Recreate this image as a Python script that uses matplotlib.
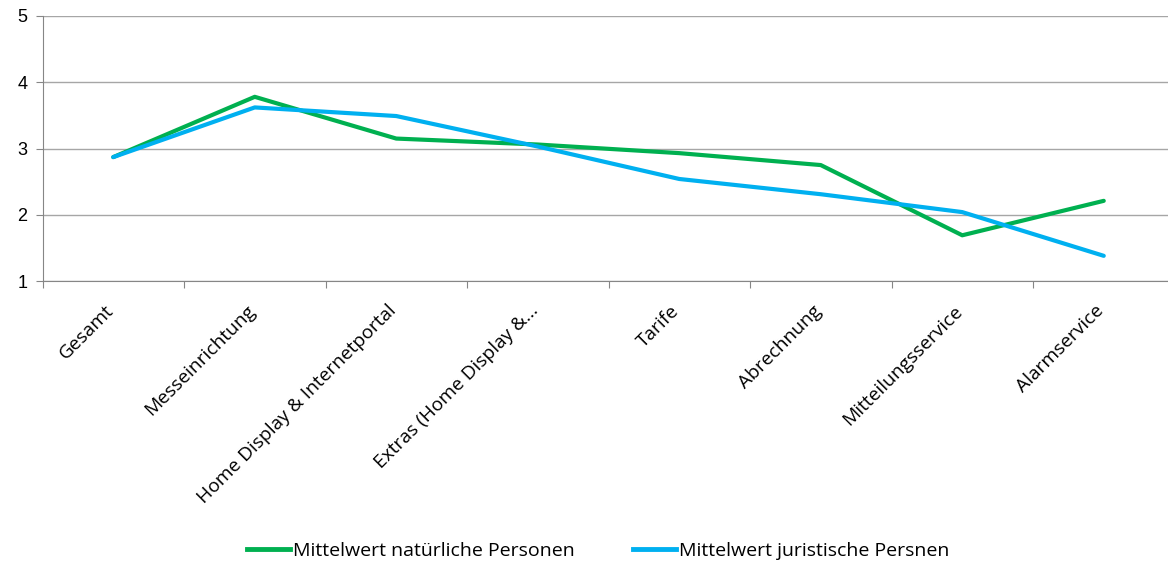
import matplotlib
matplotlib.use('Agg')
import matplotlib.pyplot as plt
import matplotlib.transforms as mtransforms
from matplotlib.lines import Line2D

categories = ['Gesamt', 'Messeinrichtung', 'Home Display & Internetportal',
              'Extras (Home Display &...', 'Tarife', 'Abrechnung',
              'Mitteilungsservice', 'Alarmservice']
natuerlich = [2.87, 3.78, 3.15, 3.06, 2.93, 2.75, 1.69, 2.21]
juristisch = [2.87, 3.62, 3.49, 3.03, 2.54, 2.31, 2.04, 1.38]

W, H = 1168, 564
fig = plt.figure(figsize=(W/100, H/100), dpi=100)
ax = fig.add_axes([42.5/W, 1-281/H, (1174.5-42.5)/W, (281-16)/H])

x = range(len(categories))
green = '#00B050'
blue = '#00B0F0'
ax.plot(x, natuerlich, color=green, lw=3, solid_capstyle='round', zorder=3)
ax.plot(x, juristisch, color=blue, lw=3, solid_capstyle='round', zorder=3)

ax.set_xlim(-0.5, len(categories)-0.5)
ax.set_ylim(1, 5)
ax.set_yticks([1, 2, 3, 4, 5])
ax.set_yticklabels(['1', '2', '3', '4', '5'], fontsize=13, family='Liberation Sans')
ax.yaxis.grid(True, color='#a6a6a6', lw=1)
ax.set_axisbelow(True)

# category ticks sit between the points
ax.set_xticks([i + 0.5 for i in range(-1, len(categories))], minor=False)
ax.set_xticklabels([])
ax.tick_params(axis='x', length=5, color='#868686', direction='out')
ax.tick_params(axis='y', length=5, color='#868686', direction='out', pad=6)
ax.set_xticks(list(x), minor=True)
ax.set_xticklabels(categories, minor=True, rotation=45, ha='right',
                   fontsize=13.8, family='Open Sans')
ax.tick_params(axis='x', which='minor', length=0, pad=15)
shift = mtransforms.ScaledTranslation(4/100, 0, fig.dpi_scale_trans)
for lbl in ax.get_xticklabels(minor=True):
    lbl.set_transform(lbl.get_transform() + shift)

for s in ['top', 'right']:
    ax.spines[s].set_visible(False)
ax.spines['left'].set_color('#868686')
ax.spines['bottom'].set_color('#868686')

handles = [Line2D([], [], color=green, lw=3.5),
           Line2D([], [], color=blue, lw=3.5)]
fig.legend(handles, ['Mittelwert natürliche Personen', 'Mittelwert juristische Persnen'],
           loc='center', bbox_to_anchor=(598/W, 1-551/H), ncol=2, frameon=False,
           prop={'family': 'Open Sans', 'size': 14}, handlelength=2.2,
           handletextpad=0.15, columnspacing=3.0)

fig.savefig('out.png', dpi=100)
